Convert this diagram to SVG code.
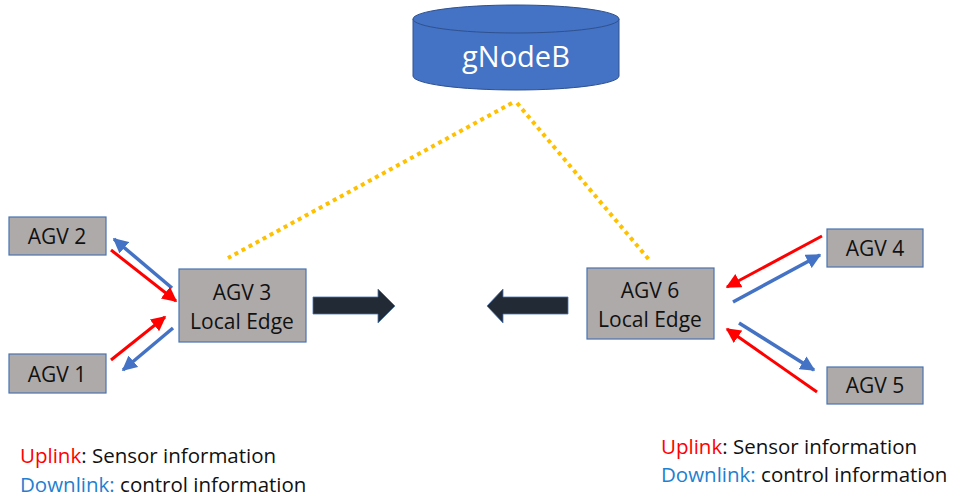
<svg xmlns="http://www.w3.org/2000/svg" width="956" height="497" viewBox="0 0 956 497">
<style>
.box{fill:#AEAAAA;stroke:#4A72B0;stroke-width:1.2}
.lbl{font-family:"Open Sans","Liberation Sans",sans-serif;font-size:21px;fill:#111;text-anchor:middle}
.leg{font-family:"Open Sans","Liberation Sans",sans-serif;font-size:20.5px;fill:#111}
.up{stroke:#FF0000;stroke-width:3;fill:none}
.dn{stroke:#4472C4;stroke-width:3.5;fill:none}
.dot{stroke:#FFC000;stroke-width:4;stroke-dasharray:4 4;fill:none}
.big{fill:#222A35;stroke:#4A72B0;stroke-width:0.8}
</style>
<defs>
<marker id="ar" viewBox="0 0 10 10" refX="9" refY="5" markerWidth="5" markerHeight="5" orient="auto" markerUnits="strokeWidth"><path d="M0,0 L10,5 L0,10 z" fill="#FF0000"/></marker>
<marker id="ab" viewBox="0 0 10 10" refX="9" refY="5" markerWidth="4.3" markerHeight="4.3" orient="auto" markerUnits="strokeWidth"><path d="M0,0 L10,5 L0,10 z" fill="#4472C4"/></marker>
</defs>
<g id="connectors">
<line class="dot" x1="512" y1="103" x2="228" y2="258"/>
<line class="dot" x1="517" y1="103" x2="651" y2="262"/>
<line class="dn" x1="172" y1="288" x2="114" y2="239" marker-end="url(#ab)"/>
<line class="up" x1="111" y1="250" x2="176" y2="301" marker-end="url(#ar)"/>
<line class="up" x1="111" y1="360" x2="165" y2="317" marker-end="url(#ar)"/>
<line class="dn" x1="173" y1="328" x2="123" y2="370" marker-end="url(#ab)"/>
<line class="up" x1="822" y1="236" x2="727" y2="287" marker-end="url(#ar)"/>
<line class="dn" x1="733" y1="302" x2="820" y2="255" marker-end="url(#ab)"/>
<line class="dn" x1="739" y1="323" x2="814" y2="370" marker-end="url(#ab)"/>
<line class="up" x1="817" y1="392" x2="727" y2="329" marker-end="url(#ar)"/>
<path class="big" d="M313,297 L378,297 L378,289 L395,306 L378,323 L378,314 L313,314 Z"/>
<path class="big" d="M568,297 L503,297 L503,289 L487,306 L503,323 L503,314 L568,314 Z"/>
</g>
<g id="gnodeb">
<path d="M413,19 L413,76 A103,14 0 0 0 619,76 L619,19 Z" fill="#4472C4" stroke="#2F528F" stroke-width="1"/>
<ellipse cx="516" cy="19" rx="103" ry="14" fill="#4472C4" stroke="#2F528F" stroke-width="1"/>
<text x="516" y="67" font-family="'Open Sans','Liberation Sans',sans-serif" font-size="29" fill="#fff" text-anchor="middle">gNodeB</text>
</g>
<g id="agv2"><rect class="box" x="9" y="217" width="97" height="38"/><text class="lbl" x="57" y="244">AGV 2</text></g>
<g id="agv1"><rect class="box" x="9" y="354" width="97" height="39"/><text class="lbl" x="57" y="382">AGV 1</text></g>
<g id="agv3"><rect class="box" x="179" y="269" width="127" height="73"/><text class="lbl" x="242" y="300">AGV 3</text><text class="lbl" x="242" y="329">Local Edge</text></g>
<g id="agv6"><rect class="box" x="587" y="268" width="127" height="71"/><text class="lbl" x="650" y="298">AGV 6</text><text class="lbl" x="650" y="327">Local Edge</text></g>
<g id="agv4"><rect class="box" x="827" y="229" width="96" height="38"/><text class="lbl" x="875" y="256">AGV 4</text></g>
<g id="agv5"><rect class="box" x="827" y="367" width="96" height="37"/><text class="lbl" x="875" y="393">AGV 5</text></g>
<g id="legend-left">
<text class="leg" x="20" y="463"><tspan fill="#FF0000">Uplink</tspan>: Sensor information</text>
<text class="leg" x="20" y="492"><tspan fill="#1F7FD0">Downlink:</tspan> control information</text>
</g>
<g id="legend-right">
<text class="leg" x="661" y="454"><tspan fill="#FF0000">Uplink</tspan>: Sensor information</text>
<text class="leg" x="661" y="482"><tspan fill="#1F7FD0">Downlink:</tspan> control information</text>
</g>
</svg>
